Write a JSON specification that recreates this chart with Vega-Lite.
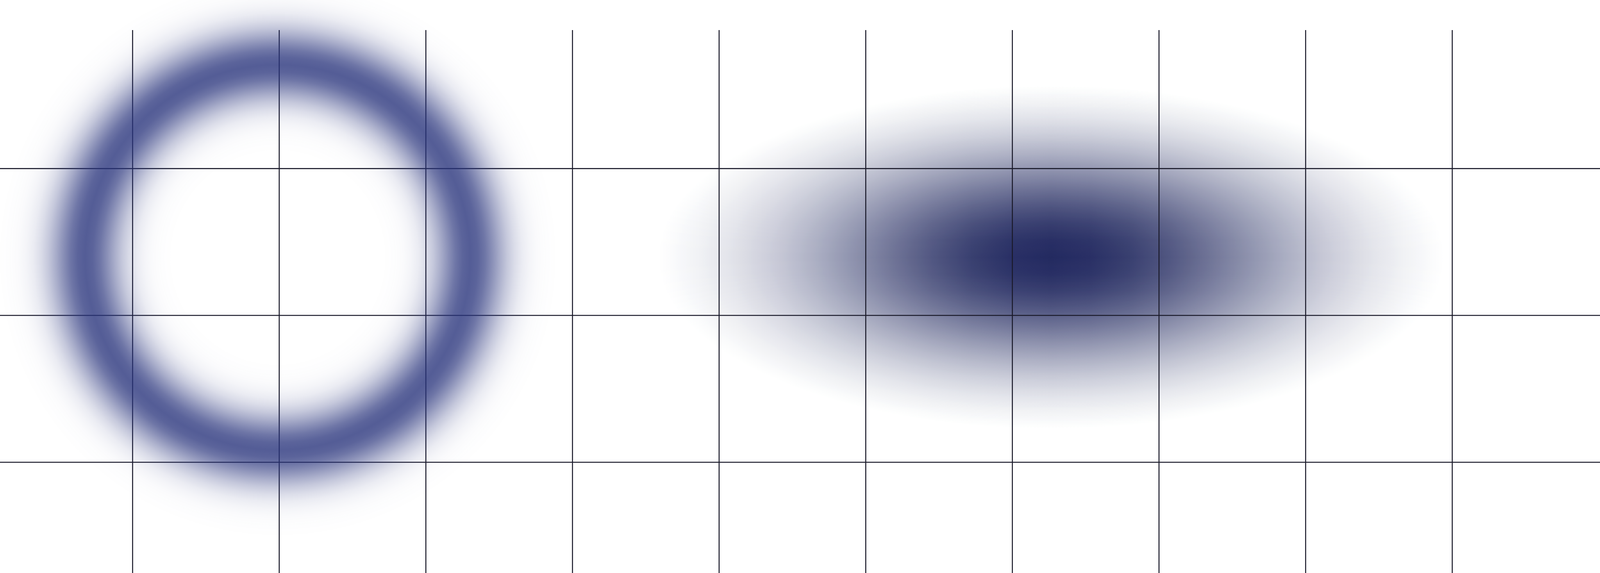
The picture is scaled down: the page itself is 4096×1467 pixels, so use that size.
{
  "$schema": "https://vega.github.io/schema/vega-lite/v6.json",
  "width": 4096,
  "height": 1390,
  "autosize": {"type": "none"},
  "padding": {"top": 77, "left": 0, "right": 0, "bottom": 0},
  "background": "#ffffff",
  "config": {"view": {"stroke": null}},
  "datasets": {
    "blob": [{"shape": "gaussian", "cx": 6.264, "cy": 2.397}],
    "ring": [{"shape": "ring", "cx": 0.99, "cy": 2.395}],
    "vgrid": [{"v": 0}, {"v": 1}, {"v": 2}, {"v": 3}, {"v": 4}, {"v": 5}, {"v": 6}, {"v": 7}, {"v": 8}, {"v": 9}],
    "hgrid": [{"h": 1}, {"h": 2}, {"h": 3}]
  },
  "layer": [
    {
      "data": {"name": "blob"},
      "mark": {
        "type": "point",
        "shape": "M-1,0A1,0.436,0,1,0,1,0A1,0.436,0,1,0,-1,0Z",
        "size": 4040100,
        "filled": true,
        "strokeWidth": 0,
        "opacity": 1,
        "fill": {
          "gradient": "linear", "x1": 0, "y1": 0, "x2": 1, "y2": 0,
          "stops": [
            {"offset": 0, "color": "#e8e8ee"},
            {"offset": 0.05, "color": "#dbdce5"},
            {"offset": 0.1, "color": "#cbccd8"},
            {"offset": 0.15, "color": "#b6b7c9"},
            {"offset": 0.2, "color": "#9c9fb6"},
            {"offset": 0.25, "color": "#8084a1"},
            {"offset": 0.3, "color": "#64688c"},
            {"offset": 0.35, "color": "#494e78"},
            {"offset": 0.4, "color": "#333968"},
            {"offset": 0.45, "color": "#252b5e"},
            {"offset": 0.5, "color": "#20265a"},
            {"offset": 0.55, "color": "#252b5e"},
            {"offset": 0.6, "color": "#333968"},
            {"offset": 0.65, "color": "#494e78"},
            {"offset": 0.7, "color": "#64688c"},
            {"offset": 0.75, "color": "#8084a1"},
            {"offset": 0.8, "color": "#9c9fb6"},
            {"offset": 0.85, "color": "#b6b7c9"},
            {"offset": 0.9, "color": "#cbccd8"},
            {"offset": 0.95, "color": "#dbdce5"},
            {"offset": 1, "color": "#e8e8ee"}
          ]
        }
      },
      "encoding": {
        "x": {"field": "cx", "type": "quantitative", "scale": {"domain": [-0.9043, 10.0076], "nice": false, "zero": false}, "axis": null},
        "y": {"field": "cy", "type": "quantitative", "scale": {"domain": [0.2459, 3.9433], "nice": false, "zero": false}, "axis": null}
      }
    },
    {
      "data": {"name": "blob"},
      "mark": {
        "type": "point",
        "shape": "M-1,0A1,0.436,0,1,0,1,0A1,0.436,0,1,0,-1,0Z",
        "size": 4286142,
        "filled": true,
        "strokeWidth": 0,
        "opacity": 1,
        "blend": "screen",
        "fill": {
          "gradient": "linear", "x1": 0, "y1": 0, "x2": 0, "y2": 1,
          "stops": [
            {"offset": 0, "color": "#e4e4e4"},
            {"offset": 0.01456, "color": "#e4e4e4"},
            {"offset": 0.0631, "color": "#d6d6d6"},
            {"offset": 0.11165, "color": "#c3c3c3"},
            {"offset": 0.16019, "color": "#ababab"},
            {"offset": 0.20874, "color": "#8e8e8e"},
            {"offset": 0.25728, "color": "#6e6e6e"},
            {"offset": 0.30583, "color": "#4d4d4d"},
            {"offset": 0.35437, "color": "#2f2f2f"},
            {"offset": 0.40291, "color": "#161616"},
            {"offset": 0.45146, "color": "#060606"},
            {"offset": 0.5, "color": "#000000"},
            {"offset": 0.54854, "color": "#060606"},
            {"offset": 0.59709, "color": "#161616"},
            {"offset": 0.64563, "color": "#2f2f2f"},
            {"offset": 0.69417, "color": "#4d4d4d"},
            {"offset": 0.74272, "color": "#6e6e6e"},
            {"offset": 0.79126, "color": "#8e8e8e"},
            {"offset": 0.83981, "color": "#ababab"},
            {"offset": 0.88835, "color": "#c3c3c3"},
            {"offset": 0.9369, "color": "#d6d6d6"},
            {"offset": 0.98544, "color": "#e4e4e4"},
            {"offset": 1, "color": "#e4e4e4"}
          ]
        }
      },
      "encoding": {
        "x": {"field": "cx", "type": "quantitative", "scale": {"domain": [-0.9043, 10.0076], "nice": false, "zero": false}, "axis": null},
        "y": {"field": "cy", "type": "quantitative", "scale": {"domain": [0.2459, 3.9433], "nice": false, "zero": false}, "axis": null}
      }
    },
    {
      "data": {"name": "blob"},
      "mark": {
        "type": "point",
        "shape": "M-1,0A1,0.436,0,1,0,1,0A1,0.436,0,1,0,-1,0Z",
        "size": 4286142,
        "filled": true,
        "strokeWidth": 0,
        "opacity": 1,
        "blend": "color-dodge",
        "fill": "#171711"
      },
      "encoding": {
        "x": {"field": "cx", "type": "quantitative", "scale": {"domain": [-0.9043, 10.0076], "nice": false, "zero": false}, "axis": null},
        "y": {"field": "cy", "type": "quantitative", "scale": {"domain": [0.2459, 3.9433], "nice": false, "zero": false}, "axis": null}
      }
    },
    {
      "data": {"name": "vgrid"},
      "mark": {"type": "rule", "color": "#1b1b2b", "strokeWidth": 2.6},
      "encoding": {
        "x": {"field": "v", "type": "quantitative", "scale": {"domain": [-0.9043, 10.0076], "nice": false, "zero": false}, "axis": null}
      }
    },
    {
      "data": {"name": "hgrid"},
      "mark": {"type": "rule", "color": "#1b1b2b", "strokeWidth": 2.6},
      "encoding": {
        "y": {"field": "h", "type": "quantitative", "scale": {"domain": [0.2459, 3.9433], "nice": false, "zero": false}, "axis": null}
      }
    },
    {
      "data": {"name": "ring"},
      "mark": {
        "type": "point",
        "shape": "circle",
        "filled": true,
        "size": 2300682,
        "strokeWidth": 0,
        "opacity": 1,
        "fill": {
          "gradient": "radial", "x1": 0.5, "y1": 0.5, "r1": 0, "x2": 0.5, "y2": 0.5, "r2": 0.5,
          "stops": [
            {"offset": 0, "color": "rgba(41,52,124,0)"},
            {"offset": 0.35, "color": "rgba(41,52,124,0)"},
            {"offset": 0.375, "color": "rgba(41,52,124,0.004)"},
            {"offset": 0.4, "color": "rgba(41,52,124,0.010)"},
            {"offset": 0.425, "color": "rgba(41,52,124,0.024)"},
            {"offset": 0.45, "color": "rgba(41,52,124,0.050)"},
            {"offset": 0.475, "color": "rgba(41,52,124,0.096)"},
            {"offset": 0.5, "color": "rgba(41,52,124,0.169)"},
            {"offset": 0.525, "color": "rgba(41,52,124,0.271)"},
            {"offset": 0.55, "color": "rgba(41,52,124,0.401)"},
            {"offset": 0.575, "color": "rgba(41,52,124,0.542)"},
            {"offset": 0.6, "color": "rgba(41,52,124,0.673)"},
            {"offset": 0.625, "color": "rgba(41,52,124,0.766)"},
            {"offset": 0.65, "color": "rgba(41,52,124,0.8)"},
            {"offset": 0.675, "color": "rgba(41,52,124,0.766)"},
            {"offset": 0.7, "color": "rgba(41,52,124,0.673)"},
            {"offset": 0.725, "color": "rgba(41,52,124,0.542)"},
            {"offset": 0.75, "color": "rgba(41,52,124,0.401)"},
            {"offset": 0.775, "color": "rgba(41,52,124,0.271)"},
            {"offset": 0.8, "color": "rgba(41,52,124,0.169)"},
            {"offset": 0.825, "color": "rgba(41,52,124,0.096)"},
            {"offset": 0.85, "color": "rgba(41,52,124,0.050)"},
            {"offset": 0.875, "color": "rgba(41,52,124,0.024)"},
            {"offset": 0.9, "color": "rgba(41,52,124,0.010)"},
            {"offset": 0.925, "color": "rgba(41,52,124,0.004)"},
            {"offset": 0.95, "color": "rgba(41,52,124,0)"},
            {"offset": 1, "color": "rgba(41,52,124,0)"}
          ]
        }
      },
      "encoding": {
        "x": {"field": "cx", "type": "quantitative", "scale": {"domain": [-0.9043, 10.0076], "nice": false, "zero": false}, "axis": null},
        "y": {"field": "cy", "type": "quantitative", "scale": {"domain": [0.2459, 3.9433], "nice": false, "zero": false}, "axis": null}
      }
    }
  ]
}
